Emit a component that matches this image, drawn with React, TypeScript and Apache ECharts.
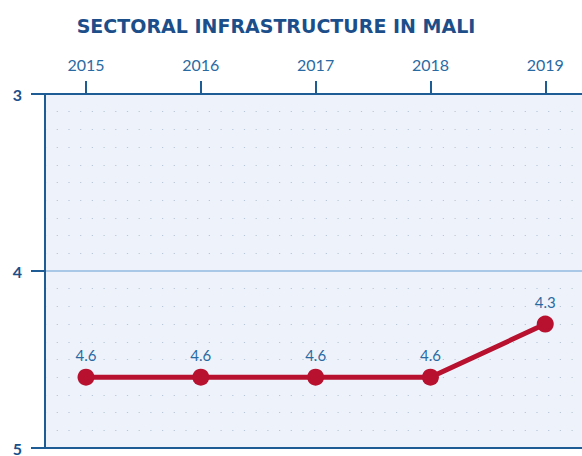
import React, { useEffect, useRef } from "react";
import * as echarts from "echarts";

const years = [2015, 2016, 2017, 2018, 2019];
const values = [4.6, 4.6, 4.6, 4.6, 4.3];
const yTicks = [3, 4, 5];
const title = "SECTORAL INFRASTRUCTURE IN MALI";

export default function App() {
  const ref = useRef<HTMLDivElement>(null);
  useEffect(() => {
    const chart = echarts.init(ref.current!, null, { renderer: "svg" });
    const axisBlue = "#1d5c94";
    chart.setOption({
      animation: false,
      backgroundColor: "#ffffff",
      title: {
        text: title,
        left: 271,
        textAlign: "center",
        top: 11,
        textStyle: {
          fontFamily: "DejaVu Sans",
          fontWeight: "bold",
          fontSize: 19,
          color: "#1c4f8a",
        },
      },
      grid: { left: 45, right: 0, top: 94, bottom: 8, show: true, backgroundColor: "#eef3fb", borderWidth: 0 },
      xAxis: {
        type: "value",
        position: "top",
        min: 2014.643,
        max: 2019.32,
        axisLine: { show: true, lineStyle: { color: axisBlue, width: 2 } },
        axisTick: { show: true, length: 13, customValues: years, lineStyle: { color: axisBlue, width: 2 } },
        axisLabel: {
          customValues: years,
          formatter: (v: number) => String(v),
          color: "#2a6aa3",
          fontFamily: "Lato",
          fontSize: 16,
          margin: 22,
        },
        splitLine: { show: false },
      },
      yAxis: {
        type: "value",
        inverse: true,
        min: yTicks[0],
        max: yTicks[yTicks.length - 1],
        interval: 1,
        axisLine: { show: true, lineStyle: { color: axisBlue, width: 2 } },
        axisTick: { show: true, length: 14, lineStyle: { color: axisBlue, width: 2 } },
        axisLabel: {
          color: "#1c4f8a",
          fontFamily: "Lato",
          fontWeight: "bold",
          fontSize: 16,
          margin: 23,
        },
        splitLine: {
          show: true,
          lineStyle: { color: ["#1d5c94", "#a9c7e6", "#1d5c94"], width: 2 },
        },
        minorTick: { show: false, splitNumber: 10 },
        minorSplitLine: {
          show: true,
          lineStyle: { color: "#b9c6d6", width: 1.2, type: [1.2, 10.5] },
        },
      },
      series: [
        {
          type: "line",
          data: years.map((y, i) => [y, values[i]]),
          symbol: "circle",
          symbolSize: 17,
          lineStyle: { color: "#b8112f", width: 5 },
          itemStyle: { color: "#b8112f" },
          label: {
            show: true,
            position: "top",
            distance: 6,
            color: "#2a6aa3",
            fontFamily: "Lato",
            fontSize: 15,
            formatter: (p: any) => p.value[1].toFixed(1),
          },
          z: 5,
        },
      ],
    });
    return () => chart.dispose();
  }, []);
  return <div ref={ref} style={{ width: 582, height: 456, position: "fixed", left: 0, top: 0 }} />;
}
